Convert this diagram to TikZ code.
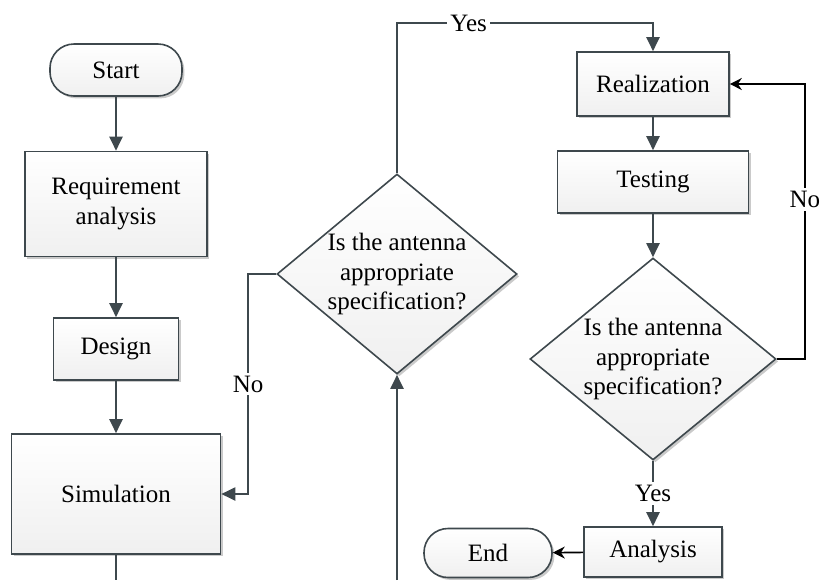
\documentclass[tikz,border=0pt]{standalone}
\usepackage{fontspec}
\IfFontExistsTF{LiberationSerif-Regular.ttf}
	{\setmainfont{LiberationSerif-Regular.ttf}[BoldFont=LiberationSerif-Bold.ttf]}
	{\setmainfont{Liberation Serif}}
\usetikzlibrary{arrows.meta,shapes.geometric,shadows}
\definecolor{linecol}{RGB}{62,72,77}

\begin{document}
\begin{tikzpicture}[x=0.5pt, y=-0.5pt,
	every node/.style={font=\fontsize{12.5}{14.8}\selectfont},
	>={Triangle[length=7pt, width=6.5pt]},
	boxbase/.style={draw=linecol, line width=0.8pt, top color=white, bottom color=gray!12, drop shadow={shadow xshift=1.2pt, shadow yshift=-1.2pt, fill=gray!70, opacity=0.6}},
	process/.style={boxbase, rectangle, align=center},
	terminal/.style={boxbase, rectangle, rounded corners=12pt},
	decision/.style={boxbase, diamond, align=center, inner sep=0pt, shape aspect=1.2, minimum width=120pt, minimum height=100pt},
	line/.style={draw=linecol, line width=1pt},
	blackline/.style={draw=black, line width=0.8pt, -{Stealth[length=6pt, width=6pt]}},
	lbl/.style={fill=white, inner sep=1.5pt}]
	\useasboundingbox (0,0) rectangle (820,580);
	\clip (0,0) rectangle (820,580);
	% left column
	\node[terminal, minimum width=66pt, minimum height=26pt] (start) at (116,70) {Start};
	\node[process, minimum width=91pt, minimum height=52.5pt] (req) at (116,204) {Requirement\\analysis};
	\node[process, minimum width=62.5pt, minimum height=31pt] (design) at (116,349) {Design};
	\node[process, minimum width=104.5pt, minimum height=60pt] (sim) at (116,494) {Simulation};
	\coordinate (simout) at (116,580);
	% middle decision
	\node[decision] (dec1) at (397,274) {Is the antenna\\appropriate\\specification?};
	\coordinate (dec1in) at (397,580);
	% right column
	\node[process, minimum width=76pt, minimum height=32pt] (real) at (653,84) {Realization};
	\node[process, minimum width=95.5pt, minimum height=31pt] (test) at (653,182) {Testing};
	\node[decision, minimum width=123pt, minimum height=101pt] (dec2) at (653,359) {Is the antenna\\appropriate\\specification?};
	\node[process, minimum width=69pt, minimum height=25pt] (anal) at (653,552) {Analysis};
	\node[terminal, minimum width=64pt, minimum height=24.5pt] (end) at (488,553) {End};

	\draw[line,->] (start) -- (req);
	\draw[line,->] (req) -- (design);
	\draw[line,->] (design) -- (sim);
	\draw[line] (sim) -- (simout);
	\draw[line,->] (dec1in) -- (dec1);
	\draw[line,->] (dec1.west) -- ++(-28,0) |- node[lbl, pos=0.25] {No} (sim.east);
	\draw[line,->] (dec1.north) -- ++(0,-150) -| node[lbl, pos=0.14] {Yes} (real.north);
	\draw[line,->] (real) -- (test);
	\draw[line,->] (test) -- (dec2);
	\draw[blackline] (dec2.east) -- ++(28,0) |- node[lbl, pos=0.29] {No} (real.east);
	\draw[line,->] (dec2) -- node[lbl] {Yes} (anal);
	\draw[blackline] (anal) -- (end);
\end{tikzpicture}
\end{document}
